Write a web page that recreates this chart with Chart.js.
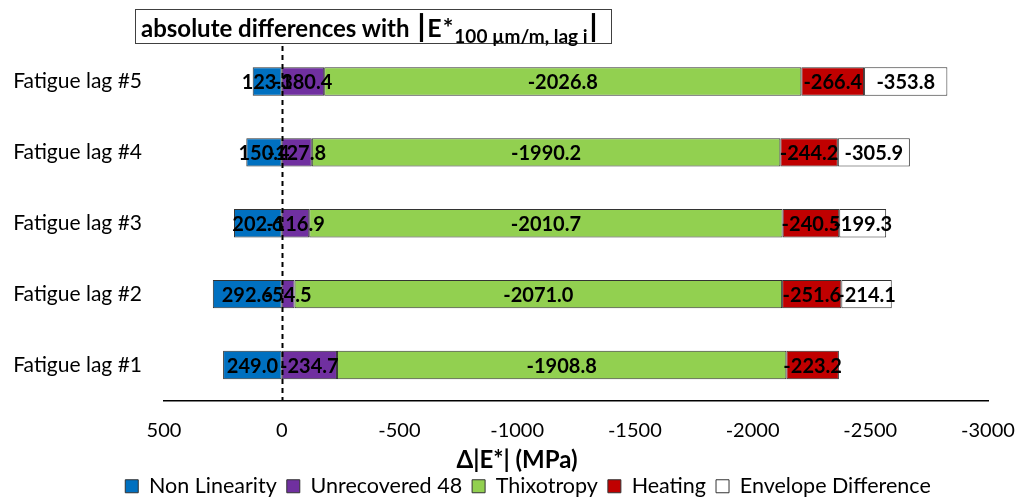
<!DOCTYPE html>
<html>
<head>
<meta charset="utf-8">
<script src="https://cdn.jsdelivr.net/npm/chart.js@4/dist/chart.umd.min.js"></script>
<style>
  body { margin: 0; background: #fff; }
  #wrap { position: relative; width: 1021px; height: 500px; }
  #title {
    position: absolute; left: 135px; top: 9px; width: 477px; height: 35px;
    border: 1.5px solid #404040; background: #fff; box-sizing: border-box;
    font: bold 24px Lato, sans-serif; color: #000; white-space: nowrap;
    padding-left: 5px; line-height: 31px;
  }
  #title .e { font-size: 25px; letter-spacing: 1px; }
  #title sub { font-size: 19px; font-weight: bold; vertical-align: -6px; }
  #title .bar { font-size: 30px; font-weight: 900; margin: 0 2px; }
</style>
</head>
<body>
<div id="wrap">
  <canvas id="chart" width="1021" height="500"></canvas>
  <div id="title">absolute differences with <span class="bar">|</span><span class="e">E*</span><sub>100 µm/m, lag i</sub><span class="bar">|</span></div>
</div>
<script>
const categories = ["Fatigue lag #5", "Fatigue lag #4", "Fatigue lag #3", "Fatigue lag #2", "Fatigue lag #1"];
const nonLinearity = [123.3, 150.4, 202.6, 292.6, 249.0];
const unrecovered48 = [-180.4, -127.8, -116.9, -54.5, -234.7];
const thixotropy = [-2026.8, -1990.2, -2010.7, -2071.0, -1908.8];
const heating = [-266.4, -244.2, -240.5, -251.6, -223.2];
const envelopeDifference = [-353.8, -305.9, -199.3, -214.1, null];
const xTicks = [500, 0, -500, -1000, -1500, -2000, -2500, -3000];
const xTitle = "Δ|E*| (MPa)";

// values written in the middle of every segment
const barLabels = {
  id: "barLabels",
  afterDatasetsDraw(chart) {
    const ctx = chart.ctx;
    ctx.save();
    ctx.font = "bold 20px Lato";
    ctx.fillStyle = "#000";
    ctx.textAlign = "center";
    ctx.textBaseline = "middle";
    chart.data.datasets.forEach((ds, i) => {
      chart.getDatasetMeta(i).data.forEach((bar, j) => {
        const v = ds.data[j];
        if (v === null || v === undefined) return;
        const p = bar.getProps(["x", "y", "base"], true);
        ctx.fillText(v.toFixed(1), (p.x + p.base) / 2, p.y + 1);
      });
    });
    ctx.restore();
  }
};

// dashed line at zero + axis title (sits left of the plot centre, like the original)
const extras = {
  id: "extras",
  afterLayout(chart) {
    // legend in the original is centred a bit right of the canvas middle
    chart.legend.left += 34;
    chart.legend.right += 34;
  },
  afterDatasetsDraw(chart) {
    const ctx = chart.ctx;
    const x = Math.round(chart.scales.x.getPixelForValue(0)) + 0.5;
    ctx.save();
    ctx.strokeStyle = "#000";
    ctx.lineWidth = 2;
    ctx.setLineDash([5, 4]);
    ctx.beginPath();
    ctx.moveTo(x, chart.chartArea.top);
    ctx.lineTo(x, chart.chartArea.bottom);
    ctx.stroke();
    ctx.setLineDash([]);
    ctx.font = "bold 24px Lato";
    ctx.fillStyle = "#000";
    ctx.textAlign = "center";
    ctx.textBaseline = "middle";
    ctx.fillText(xTitle, 517, 460);
    ctx.restore();
  }
};

const mk = (label, data, color) => ({
  label: label,
  data: data,
  backgroundColor: color,
  borderColor: "#333",
  borderWidth: 1,
  borderSkipped: false,
  barPercentage: 0.4,
  categoryPercentage: 1
});

new Chart(document.getElementById("chart"), {
  type: "bar",
  data: {
    labels: categories,
    datasets: [
      mk("Non Linearity", nonLinearity, "#0070C0"),
      mk("Unrecovered 48", unrecovered48, "#7030A0"),
      mk("Thixotropy", thixotropy, "#92D050"),
      mk("Heating", heating, "#C00000"),
      mk("Envelope Difference", envelopeDifference, "#FFFFFF")
    ]
  },
  options: {
    indexAxis: "y",
    responsive: false,
    animation: false,
    layout: { padding: { top: 46, right: 33, bottom: -7, left: 0 } },
    scales: {
      x: {
        stacked: true,
        reverse: true,
        min: -3000,
        max: 500,
        afterBuildTicks: (s) => { s.ticks = xTicks.map((v) => ({ value: v })); },
        afterFit: (s) => { s.height = 65; s.paddingLeft = 0; s.paddingRight = 0; },
        grid: { display: false, drawTicks: false },
        border: { display: true, color: "#000", width: 1.5 },
        ticks: {
          color: "#000",
          font: { family: "Lato", size: 20 },
          padding: 18,
          maxRotation: 0,
          callback: (v) => String(v)
        }
      },
      y: {
        stacked: true,
        afterFit: (s) => { s.width = 164; },
        grid: { display: false, drawTicks: false },
        border: { display: false },
        ticks: { color: "#000", font: { family: "Lato", size: 21 }, padding: 22 }
      }
    },
    plugins: {
      legend: {
        position: "bottom",
        labels: {
          color: "#000",
          font: { family: "Lato", size: 21.5, lineHeight: 1 },
          boxWidth: 13,
          boxHeight: 13,
          padding: 10
        }
      },
      tooltip: { enabled: false }
    }
  },
  plugins: [barLabels, extras]
});
</script>
</body>
</html>
